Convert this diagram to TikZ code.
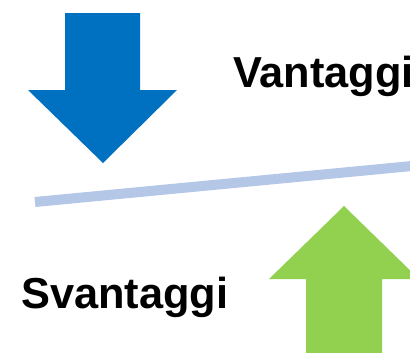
\documentclass[tikz,border=0pt]{standalone}
\usepackage{fontspec}
\setmainfont{Liberation Sans}
\usetikzlibrary{positioning}
\definecolor{downblue}{HTML}{0070C0}
\definecolor{upgreen}{HTML}{92D050}
\definecolor{beamblue}{HTML}{B4C7E7}

\begin{document}
\begin{tikzpicture}[x=1bp,y=-1bp,font=\fontsize{43.5}{50}\selectfont\bfseries]
      \useasboundingbox (0,0) rectangle (410,353);
      %down arrow
      \fill[downblue] (65,13) -- (140,13) -- (140,90) -- (177,90) -- (103,163) -- (28,90) -- (65,90) -- cycle;
      %beam
      \coordinate (beamleft) at (35,202);
      \coordinate (beamright) at (412,166);
      \draw[beamblue,line width=10bp] (beamleft) -- (beamright);
      %up arrow
      \fill[upgreen] (306,355) -- (306,279) -- (269,279) -- (344,206) -- (419,279) -- (382,279) -- (382,355) -- cycle;
      %labels
      \node[anchor=base west,inner sep=0pt] (pro) at (233,87) {Vantaggi};
      \node[anchor=base west,inner sep=0pt] (contro) at (21,308) {Svantaggi};
\end{tikzpicture}
\end{document}
